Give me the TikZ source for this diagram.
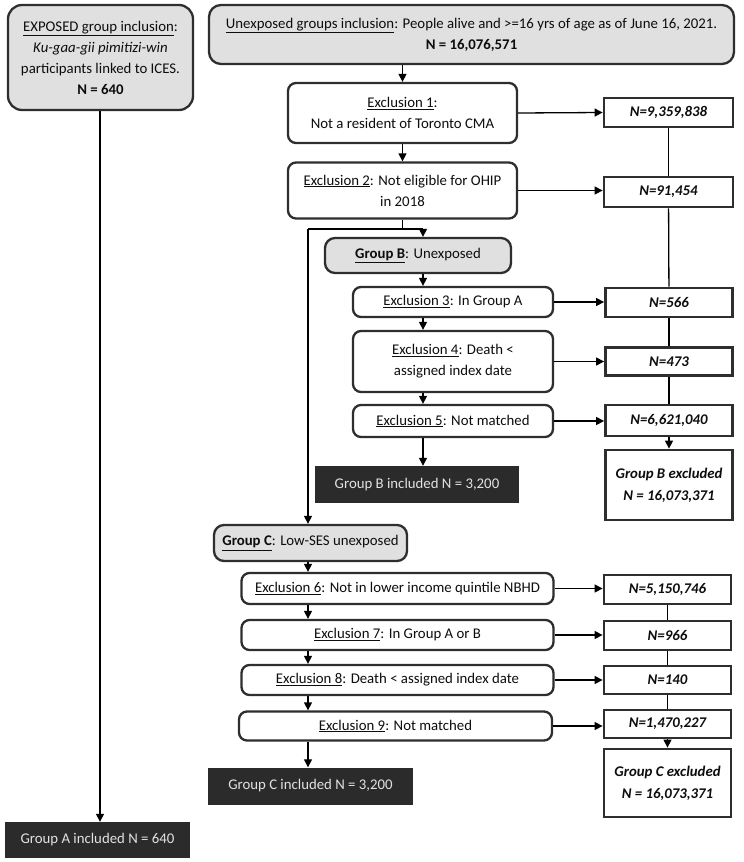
\documentclass[tikz,border=0pt]{standalone}
\usepackage{fontspec}
\setmainfont{Carlito}
\usetikzlibrary{arrows.meta}
\definecolor{bd}{HTML}{2E2E2E}
\definecolor{gfill}{HTML}{E0E0E0}
\definecolor{dfill}{HTML}{2B2B2B}
\definecolor{ltxt}{HTML}{E2E2E2}
\definecolor{tx}{HTML}{0D0D0D}
\begin{document}
\begin{tikzpicture}[x=1pt,y=-1pt,
  every node/.style={font=\fontsize{14.8}{21}\selectfont, text=tx, align=center, inner sep=0pt},
  exbox/.style={draw=bd, line width=2.3pt, rounded corners=8pt, fill=white},
  grpbox/.style={exbox, fill=gfill, rounded corners=10pt},
  nbox/.style={draw=bd, line width=2.8pt, fill=white, font=\fontsize{14.8}{22}\selectfont\bfseries\itshape},
  incbox/.style={fill=dfill, text=ltxt},
  arr/.style={draw=black, line width=1.3pt, -{Triangle[length=8pt,width=8pt]}},
  ln/.style={draw=black, line width=1.3pt}]
\useasboundingbox (0,0) rectangle (744,862);
% inclusion boxes
\node[grpbox, rounded corners=14pt, minimum width=185pt, minimum height=105pt] (exp) at (100.5,57.5)
  {\underline{EXPOSED group inclusion}:\\ \textit{Ku-gaa-gii pimitizi-win}\\ participants linked to ICES.\\ \textbf{N = 640}};
\node[grpbox, rounded corners=12pt, minimum width=525pt, minimum height=59pt] (top) at (471.5,34.5)
  {\underline{Unexposed groups inclusion}: People alive and >=16 yrs of age as of June 16, 2021.\\ \textbf{N = 16,076,571}};
% exclusion chain 1-2
\node[exbox, minimum width=229pt, minimum height=60pt] (e1) at (402.5,113) {\underline{Exclusion 1}:\\ Not a resident of Toronto CMA};
\node[exbox, minimum width=229pt, minimum height=56pt] (e2) at (402.5,190.5) {\underline{Exclusion 2}: Not eligible for OHIP\\ in 2018};
\node[nbox, minimum width=129pt, minimum height=29pt] (n1) at (668.5,112.5) {N=9,359,838};
\node[nbox, minimum width=129pt, minimum height=30pt] (n2) at (668.5,192) {N=91,454};
% group B
\node[grpbox, minimum width=186pt, minimum height=35pt] (gB) at (418,255.5) {\underline{\textbf{Group B}}: Unexposed};
\node[exbox, minimum width=200pt, minimum height=30pt] (e3) at (453,302) {\underline{Exclusion 3}: In Group A};
\node[exbox, minimum width=200pt, minimum height=61pt] (e4) at (453,361.5) {\underline{Exclusion 4}: Death <\\ assigned index date};
\node[exbox, minimum width=200pt, minimum height=32pt] (e5) at (453,421) {\underline{Exclusion 5}: Not matched};
\node[nbox, minimum width=127pt, minimum height=29pt] (n3) at (669,302.5) {N=566};
\node[nbox, minimum width=127pt, minimum height=28pt] (n4) at (669,361.5) {N=473};
\node[nbox, minimum width=127pt, minimum height=31pt] (n5) at (669,420.5) {N=6,621,040};
\node[nbox, minimum width=127pt, minimum height=70pt] (bx) at (669,485) {Group B excluded\\ N = 16,073,371};
\node[incbox, minimum width=204pt, minimum height=37pt] (bi) at (417,484.5) {Group B included N = 3,200};
% group C
\node[grpbox, minimum width=193pt, minimum height=36pt] (gC) at (310.5,543) {\underline{\textbf{Group C}}: Low-SES unexposed};
\node[exbox, minimum width=312pt, minimum height=31pt] (e6) at (397.5,588.5) {\underline{Exclusion 6}: Not in lower income quintile NBHD};
\node[exbox, minimum width=312pt, minimum height=30pt] (e7) at (397.5,635) {\underline{Exclusion 7}: In Group A or B};
\node[exbox, minimum width=312pt, minimum height=30pt] (e8) at (397.5,680) {\underline{Exclusion 8}: Death < assigned index date};
\node[exbox, minimum width=313pt, minimum height=29pt] (e9) at (395.5,726) {\underline{Exclusion 9}: Not matched};
\node[nbox, minimum width=127pt, minimum height=29pt] (n6) at (667.5,589.5) {N=5,150,746};
\node[nbox, minimum width=127pt, minimum height=29pt] (n7) at (667.5,635.5) {N=966};
\node[nbox, minimum width=127pt, minimum height=28pt] (n8) at (667.5,680) {N=140};
\node[nbox, minimum width=127pt, minimum height=28pt] (n9) at (667.5,724) {N=1,470,227};
\node[nbox, minimum width=127pt, minimum height=68pt] (cx) at (667.5,783) {Group C excluded\\ N = 16,073,371};
\node[incbox, minimum width=205pt, minimum height=37pt] (ci) at (310.5,786) {Group C included N = 3,200};
\node[incbox, minimum width=185pt, minimum height=36pt] (ai) at (97.5,840) {Group A included N = 640};
% helper coordinates
\coordinate (j) at (402.5,229);
\coordinate (jl) at (308,229);
\coordinate (jr) at (423,229);
\coordinate (ax) at (100,0);
% connectors
\draw[arr] (exp.south -| ax) -- (ai.north -| ax);
\draw[arr] (top.south -| e1.north) -- (e1.north);
\draw[arr] (e1) -- (e2);
\draw[ln] (e2.south) -- (j);
\draw[ln] (jl) -- (jr);
\draw[arr] (jr) -- (gB.north -| jr);
\draw[arr] (jl) -- (gC.north -| jl);
\draw[arr] (gB.south -| jr) -- (e3.north -| jr);
\draw[arr] (e3.south -| jr) -- (e4.north -| jr);
\draw[arr] (e4.south -| jr) -- (e5.north -| jr);
\draw[arr] (e5.south -| jr) -- (bi.north -| jr);
\draw[arr] (e1.east) -- (n1.west);
\draw[arr] (e2.east) -- (n2.west |- e2.east);
\draw[arr] (e3.east) -- (n3.west |- e3.east);
\draw[arr] (e4.east) -- (n4.west |- e4.east);
\draw[arr] (e5.east) -- (n5.west |- e5.east);
\draw[ln] (n1) -- (n2);
\draw[ln] (n2) -- (n3);
\draw[ln] (n3) -- (n4);
\draw[ln] (n4) -- (n5);
\draw[arr] (n5) -- (bx);
\draw[arr] (gC.south -| jl) -- (e6.north -| jl);
\draw[arr] (e6.south -| jl) -- (e7.north -| jl);
\draw[arr] (e7.south -| jl) -- (e8.north -| jl);
\draw[arr] (e8.south -| jl) -- (e9.north -| jl);
\draw[arr] (e9.south -| jl) -- (ci.north -| jl);
\draw[arr] (e6.east) -- (n6.west |- e6.east);
\draw[arr] (e7.east) -- (n7.west |- e7.east);
\draw[arr] (e8.east) -- (n8.west |- e8.east);
\draw[arr] (e9.east) -- (n9.west |- e9.east);
\draw[ln] (n6) -- (n7);
\draw[ln] (n7) -- (n8);
\draw[ln] (n8) -- (n9);
\draw[arr] (n9) -- (cx);
\end{tikzpicture}
\end{document}
